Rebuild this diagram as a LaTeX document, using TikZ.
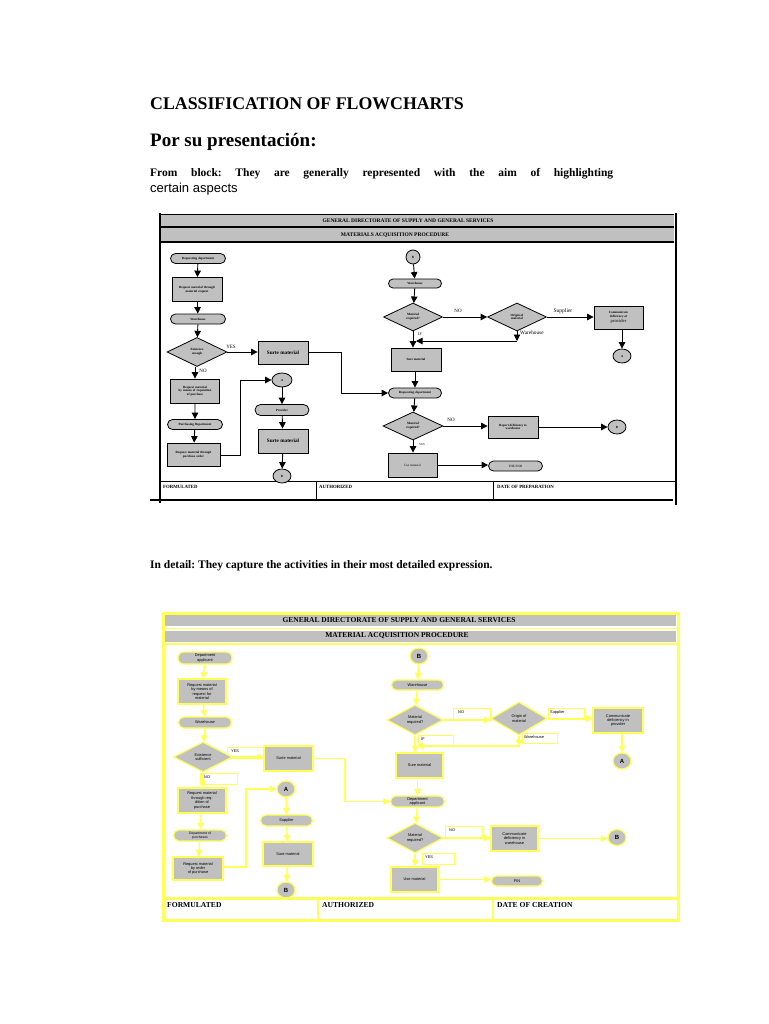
\documentclass[tikz,border=0pt]{standalone}
\usepackage{fontspec}
\setmainfont{Liberation Serif}
\setsansfont{Liberation Sans}
\frenchspacing
\usetikzlibrary{shapes.geometric,shapes.misc,arrows.meta}
\definecolor{gr}{RGB}{192,192,192}
\definecolor{ylw}{RGB}{255,255,85}
\begin{document}
\begin{tikzpicture}[x=1pt,y=-1pt,
 tfont/.style={font=\bfseries\fontsize{3.2}{3.7}\selectfont},
 tb/.style={rectangle,draw=black,fill=gr,line width=0.8pt,inner sep=0.5pt,align=center,tfont},
 tt/.style={rounded rectangle,draw=black,fill=gr,line width=0.8pt,inner sep=0.5pt,align=center,tfont},
 td/.style={diamond,draw=black,fill=gr,line width=0.8pt,inner sep=0pt,align=center,tfont},
 tc/.style={ellipse,draw=black,fill=gr,line width=0.8pt,inner sep=0pt,minimum width=18pt,minimum height=14pt,tfont},
 tarr/.style={-{Triangle[length=6.5pt,width=6.5pt]},line width=0.9pt,black},
 tlbl/.style={inner sep=0pt,font=\fontsize{5}{6}\selectfont},
 bfont/.style={font=\sffamily\fontsize{3.9}{4.4}\selectfont},
 bb/.style={rectangle,draw=ylw,fill=gr,line width=1.2pt,inner sep=0.5pt,align=center,bfont},
 bt/.style={rounded rectangle,draw=ylw,fill=gr,line width=1.2pt,inner sep=0.5pt,align=center,bfont},
 bd/.style={diamond,draw=ylw,fill=gr,line width=1.2pt,inner sep=0pt,align=center,bfont},
 bc/.style={ellipse,draw=ylw,fill=gr,line width=1.2pt,inner sep=0pt,minimum width=18pt,minimum height=16pt,font=\sffamily\bfseries\fontsize{6}{7}\selectfont},
 barr/.style={-{Triangle[length=6.5pt,width=6.5pt]},line width=1.4pt,ylw},
 blbl/.style={rectangle,draw=ylw,fill=white,line width=1.2pt,inner sep=0pt,anchor=north west,bfont},
 btxt/.style={inner sep=0pt,anchor=west,bfont},
 hdr/.style={inner sep=0pt,font=\bfseries\fontsize{5.5}{6}\selectfont},
 bhdr/.style={inner sep=0pt,font=\bfseries\fontsize{7.5}{8.5}\selectfont},
 foot/.style={inner sep=0pt,anchor=west,font=\bfseries\fontsize{4.8}{5.5}\selectfont},
 bfoot/.style={inner sep=0pt,anchor=west,font=\bfseries\fontsize{7.6}{8.5}\selectfont}
]
\path[use as bounding box,fill=white] (0,0) rectangle (768,1024);

% ---------- page texts ----------
\node[inner sep=0pt,anchor=west,font=\bfseries\fontsize{17.8}{20}\selectfont] (title) at (150,104) {CLASSIFICATION OF FLOWCHARTS};
\node[inner sep=0pt,anchor=west,font=\bfseries\fontsize{19}{22}\selectfont] (sub) at (150,142) {Por su presentación:};
\node[inner sep=0pt,anchor=west,font=\bfseries\fontsize{11.5}{13}\selectfont] (p1) at (150,174) {\makebox[463pt][s]{From block: They are generally represented with the aim of highlighting}};
\node[inner sep=0pt,anchor=west,font=\sffamily\fontsize{13}{15}\selectfont] (p2) at (150,189) {certain aspects};
\node[inner sep=0pt,anchor=west,font=\bfseries\fontsize{11.5}{13}\selectfont] (p3) at (150,566) {In detail: They capture the activities in their most detailed expression.};

% ---------- top chart frame ----------
\fill[gr] (160,215) rectangle (674,226);
\fill[gr] (160,228) rectangle (674,242);
\draw[line width=0.8pt] (160,214.5) -- (674,214.5);
\draw[line width=1.5pt] (160,227) -- (674,227);
\draw[line width=1.5pt] (160,242) -- (674,242);
\draw[line width=2pt] (160,213) -- (160,503);
\draw[line width=2pt] (676,213) -- (676,505);
\draw[line width=1pt] (160,481) -- (676,481);
\draw[line width=1pt] (316,481) -- (316,499);
\draw[line width=1pt] (493,481) -- (493,499);
\draw[line width=2pt] (150,499.5) -- (673,499.5);
\node[hdr] (th1) at (408,221) {GENERAL DIRECTORATE OF SUPPLY AND GENERAL SERVICES};
\node[hdr] (th2) at (395,235.5) {MATERIALS ACQUISITION PROCEDURE};
\node[foot] (tf1) at (163,486.5) {FORMULATED};
\node[foot] (tf2) at (319,487) {AUTHORIZED};
\node[foot] (tf3) at (497,487) {DATE OF PREPARATION};

% ---------- top chart nodes ----------
\node[tt,minimum width=56pt,minimum height=10pt] (r1) at (198,258.5) {Requesting department};
\node[tb,minimum width=50pt,minimum height=24pt,text width=46pt] (r2) at (197,289.5) {Request material through\\material request};
\node[tt,minimum width=56pt,minimum height=10pt] (r3) at (198,319) {Warehouse};
\node[td,minimum width=60pt,minimum height=29pt] (d1) at (197,352) {Existence\\enough};
\node[tb,minimum width=50pt,minimum height=23pt] (s1) at (283,352.5) {\fontsize{5.2}{6}\selectfont Surte material};
\node[tb,minimum width=49pt,minimum height=24pt,text width=46pt] (r4) at (195,391) {Request material\\by means of requisition\\of purchase};
\node[tt,minimum width=56pt,minimum height=10pt] (r5) at (195,424.5) {Purchasing Department};
\node[tb,minimum width=53pt,minimum height=23pt,text width=50pt] (r6) at (193.5,454.5) {Request material through\\purchase order};
\node[tc,minimum width=20pt] (ta1) at (282,380) {A};
\node[tt,minimum width=55pt,minimum height=11pt] (pv) at (282,410) {Provider};
\node[tb,minimum width=50pt,minimum height=24pt] (s2) at (283,441) {\fontsize{5.2}{6}\selectfont Surte material};
\node[tc] (tb1) at (282,476) {B};

\node[tc,minimum width=14pt] (tb2) at (413,257) {B};
\node[tt,minimum width=54pt,minimum height=9pt] (w2) at (415,283.5) {Warehouse};
\node[td,minimum width=59pt,minimum height=28pt] (d2) at (413,317) {Material\\required?};
\node[td,minimum width=59pt,minimum height=28pt] (d3) at (517,317) {Origin of\\material};
\node[tb,minimum width=49pt,minimum height=23pt] (cm) at (618.5,317.5) {Communicate\\deficiency at\\{\mdseries\fontsize{4.6}{5}\selectfont provider}};
\node[tc] (ta2) at (622,356) {A};
\node[tb,minimum width=50pt,minimum height=23pt] (s3) at (416,359.5) {Sure material};
\node[tt,minimum width=54pt,minimum height=10pt] (rd) at (415,393) {Requesting department};
\node[td,minimum width=60pt,minimum height=28pt] (d4) at (413,426) {Material\\required?};
\node[tb,minimum width=50pt,minimum height=22pt] (rp) at (513,427) {Report deficiency to\\warehouse};
\node[tc] (tb3) at (617,427) {B};
\node[tb,minimum width=49pt,minimum height=24pt] (um) at (412.5,465) {\mdseries Use material};
\node[tt,minimum width=55pt,minimum height=10pt] (te) at (515.5,466) {\mdseries THE END};
\coordinate (cw) at (517,341);
\coordinate (cj) at (416,341);
\coordinate (c1) at (240,455);
\coordinate (c2) at (240,380);
\coordinate (c3) at (341,352.5);
\coordinate (c4) at (341,393);

% top labels
\node[tlbl] (ly1) at (231,347) {YES};
\node[tlbl] (ln1) at (203,371) {NO};
\node[tlbl] (ln2) at (458,311) {NO};
\node[tlbl,font=\fontsize{5.5}{6}\selectfont] (ls1) at (563,311) {Supplier};
\node[tlbl,anchor=west,font=\fontsize{5.3}{6}\selectfont] (lw1) at (520,333) {Warehouse};
\node[tlbl,font=\fontsize{4}{5}\selectfont] (li1) at (420,334) {IF};
\node[tlbl] (ln3) at (451,420) {NO};
\node[tlbl,font=\fontsize{3}{4}\selectfont] (ly2) at (422,445) {YES};

% top connectors
\draw[tarr] (r1) -- (r2);
\draw[tarr] (r2) -- (r3);
\draw[tarr] (r3) -- (d1);
\draw[tarr] (d1.east) -- (d1.east -| s1.west);
\draw[tarr] (d1.south -| r4.north) -- (r4.north);
\draw[tarr] (r4) -- (r5);
\draw[tarr] (r5) -- (r6);
\draw[tarr] (r6.east |- c1) -- (c1) -- (c2) -- (ta1.west);
\draw[tarr] (ta1) -- (pv);
\draw[tarr] (pv) -- (s2);
\draw[tarr] (s2) -- (tb1);
\draw[tarr] (s1.east |- c3) -- (c3) -- (c4) -- (rd.west);
\draw[tarr] (tb2) -- (w2);
\draw[tarr] (w2) -- (d2);
\draw[tarr] (d2.east) -- (d2.east -| d3.west);
\draw[tarr] (d3.east) -- (d3.east -| cm.west);
\draw[tarr] (cm.south -| ta2.north) -- (ta2.north);
\draw[tarr] (d3.south) -- (cw);
\draw[tarr] (cw) -- (cj);
\draw[tarr] (d2.south) -- (d2.south |- s3.north);
\draw[tarr] (s3.south -| rd.north) -- (rd.north);
\draw[tarr] (rd) -- (d4);
\draw[tarr] (d4.east) -- (d4.east -| rp.west);
\draw[tarr] (rp.east) -- (rp.east -| tb3.west);
\draw[tarr] (d4.south) -- (d4.south |- um.north);
\draw[tarr] (um.east) -- (um.east -| te.west);

% ---------- bottom chart frame ----------
\fill[gr] (165,615) rectangle (676,626);
\fill[gr] (165,631) rectangle (676,642);
\draw[ylw,line width=1.5pt] (163,628.5) -- (678,628.5);
\draw[ylw,line width=2pt] (163,643.5) -- (678,643.5);
\draw[ylw,line width=3pt] (163,898) -- (678,898);
\draw[ylw,line width=1.5pt] (318,898) -- (318,920);
\draw[ylw,line width=1.5pt] (493,898) -- (493,920);
\draw[ylw,line width=3pt] (163,613) rectangle (678,920);
\node[bhdr] (bh1) at (399,620) {GENERAL DIRECTORATE OF SUPPLY AND GENERAL SERVICES};
\node[bhdr] (bh2) at (397,636) {MATERIAL ACQUISITION PROCEDURE};
\node[bfoot] (bf1) at (167,905.5) {FORMULATED};
\node[bfoot] (bf2) at (322,905.5) {AUTHORIZED};
\node[bfoot] (bf3) at (497,905.5) {DATE OF CREATION};

% label boxes
\node[blbl,minimum width=37pt,minimum height=11pt] (ly3) at (227,747) {};
\node[btxt] (ty3) at (231,751) {YES};
\node[blbl,minimum width=37pt,minimum height=11pt] (ln4) at (200,773) {};
\node[btxt] (tn4) at (204,777) {NO};
\node[blbl,minimum width=37pt,minimum height=12pt] (ln5) at (453,708) {};
\node[btxt] (tn5) at (458,712) {NO};
\node[blbl,minimum width=36pt,minimum height=11pt] (ls2) at (548,708) {};
\node[btxt] (ts2) at (550,712) {Supplier};
\node[blbl,minimum width=35pt,minimum height=10pt] (lw2) at (522,733) {};
\node[btxt] (tw2) at (524,737) {Warehouse};
\node[blbl,minimum width=35pt,minimum height=11pt] (li2) at (418,735) {};
\node[btxt] (ti2) at (421,739) {IF};
\node[blbl,minimum width=37pt,minimum height=11pt] (ln6) at (445,826) {};
\node[btxt] (tn6) at (449,830) {NO};
\node[blbl,minimum width=32pt,minimum height=11pt] (ly4) at (422,853) {};
\node[btxt] (ty4) at (425,857) {YES};

% bottom nodes
\node[bt,minimum width=55pt,minimum height=12pt] (q1) at (205,658) {Department\\applicant};
\node[bb,minimum width=48pt,minimum height=25pt] (q2) at (202,691.5) {Request material\\by means of\\request for\\material};
\node[bt,minimum width=54pt,minimum height=11pt] (q3) at (205,722.5) {Warehouse};
\node[bd,minimum width=59pt,minimum height=30pt] (e1) at (203,757) {Existence\\sufficient};
\node[bb,minimum width=49pt,minimum height=25pt] (u1) at (288.5,758.5) {Surte material};
\node[bb,minimum width=48pt,minimum height=25pt] (q4) at (202,800.5) {Request material\\through req-\\dition of\\purchase};
\node[bt,minimum width=54pt,minimum height=11pt] (q5) at (200,835.5) {\fontsize{3.4}{4}\selectfont Department of\\\fontsize{3.4}{4}\selectfont purchases};
\node[bb,minimum width=50pt,minimum height=23pt] (q6) at (198,868.5) {Request material\\by order\\of purchase};
\node[bc] (ba1) at (286,789) {A};
\node[bt,minimum width=53pt,minimum height=11pt] (sp) at (286.5,820.5) {Supplier};
\node[bb,minimum width=50pt,minimum height=24pt] (u2) at (288,854) {Sure material};
\node[bc] (bb1) at (286,890) {B};

\node[bc] (bb2) at (419,656) {B};
\node[bt,minimum width=53pt,minimum height=10pt] (w3) at (417.5,685) {Warehouse};
\node[bd,minimum width=56pt,minimum height=30pt] (e2) at (415,720) {Material\\required?};
\node[bd,minimum width=56pt,minimum height=33pt] (e3) at (519,718.5) {Origin of\\material};
\node[bb,minimum width=50pt,minimum height=25pt] (k1) at (618,720.5) {Communicate\\deficiency in\\provider};
\node[bc] (ba2) at (622,761) {A};
\node[bb,minimum width=47pt,minimum height=25pt] (u3) at (419.5,765.5) {Sure material};
\node[bt,minimum width=55pt,minimum height=11pt] (q7) at (417.5,801.5) {Department\\applicant};
\node[bd,minimum width=56pt,minimum height=30pt] (e4) at (415,838) {Material\\required?};
\node[bb,minimum width=47pt,minimum height=25pt] (k2) at (514.5,838.5) {Communicate\\deficiency in\\warehouse};
\node[bc] (bb3) at (617,837.5) {B};
\node[bb,minimum width=47pt,minimum height=25pt] (u4) at (414.5,879.5) {Use material};
\node[bt,minimum width=52pt,minimum height=10pt] (fin) at (517,881) {FIN};
\coordinate (k3) at (246,867);
\coordinate (k4) at (246,789);
\coordinate (k5) at (345,758.5);
\coordinate (k6) at (345,801.5);
\coordinate (k7) at (519,746);
\coordinate (k8) at (417,746);

% bottom connectors
\draw[barr] (q1) -- (q2);
\draw[barr] (q2) -- (q3);
\draw[barr] (q3) -- (e1);
\draw[barr] (e1.east) -- (e1.east -| u1.west);
\draw[barr] (e1.south) -- (e1.south |- q4.north);
\draw[barr] (q4) -- (q5);
\draw[barr] (q5) -- (q6);
\draw[barr] (q6.east |- k3) -- (k3) -- (k4) -- (ba1.west);
\draw[barr] (ba1) -- (sp);
\draw[barr] (sp) -- (u2);
\draw[barr] (u2) -- (bb1);
\draw[barr] (u1.east |- k5) -- (k5) -- (k6) -- (q7.west);
\draw[barr] (bb2) -- (w3);
\draw[barr] (w3) -- (e2);
\draw[barr] (e2.east) -- (e2.east -| e3.west);
\draw[barr] (e3.east) -- (e3.east -| k1.west);
\draw[barr] (k1.south -| ba2.north) -- (ba2.north);
\draw[barr] (e3.south) -- (k7);
\draw[barr] (k7) -- (k8);
\draw[barr] (e2.south) -- (e2.south |- u3.north);
\draw[barr] (u3.south -| q7.north) -- (q7.north);
\draw[barr] (q7) -- (e4);
\draw[barr] (e4.east) -- (e4.east -| k2.west);
\draw[barr] (k2.east) -- (k2.east -| bb3.west);
\draw[barr] (e4.south) -- (e4.south |- u4.north);
\draw[barr] (u4.east) -- (u4.east -| fin.west);
\end{tikzpicture}
\end{document}
